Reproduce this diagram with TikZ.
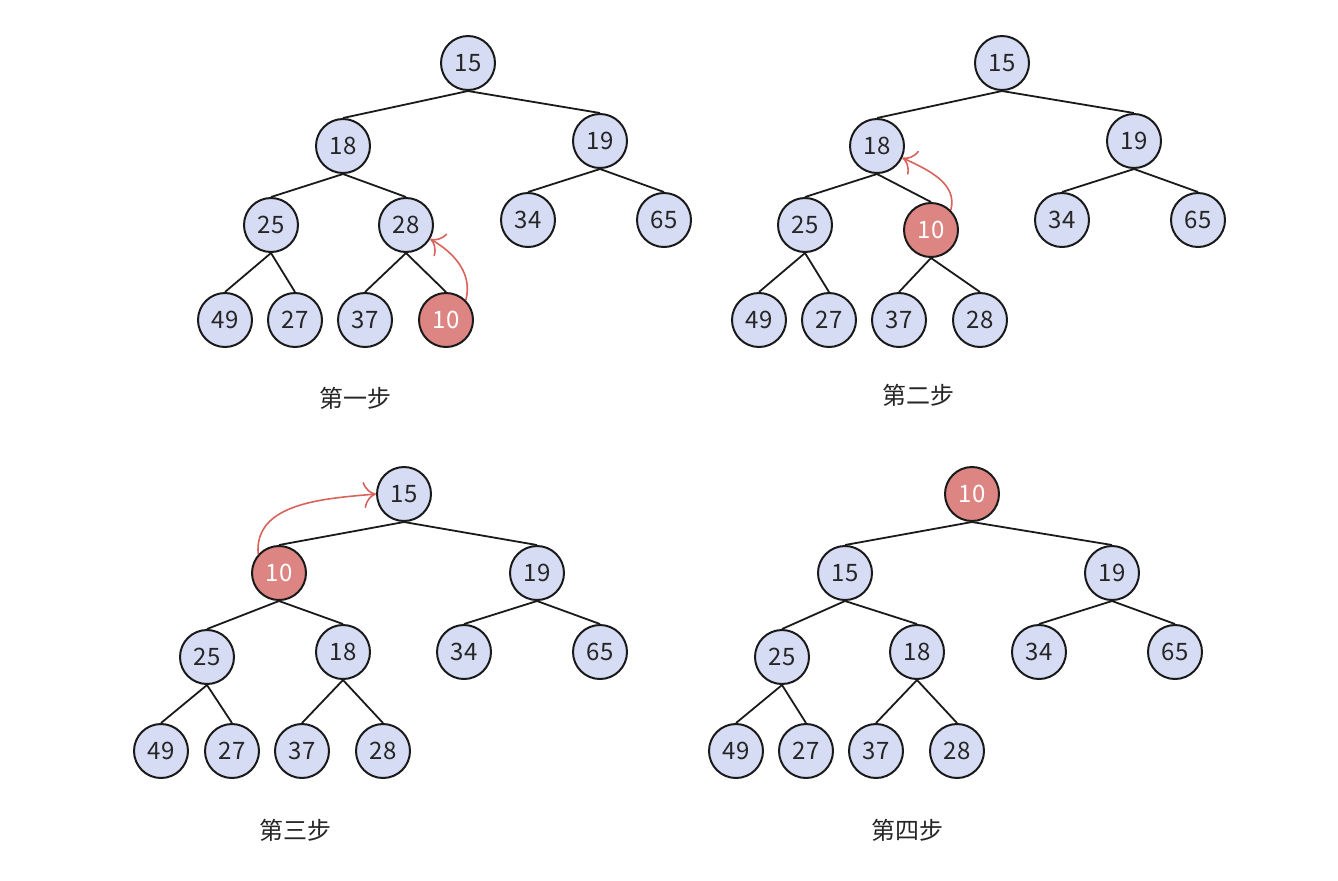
\documentclass[tikz,border=0pt]{standalone}
\usepackage{fontspec}
\setmainfont{Noto Sans CJK SC}
\usetikzlibrary{arrows.meta}
\definecolor{keyfill}{HTML}{D6DCF3}
\definecolor{hotfill}{HTML}{DD8582}
\definecolor{moveline}{HTML}{D9625C}
\definecolor{inkline}{HTML}{1A1A1A}
\tikzset{
  key/.style     = {circle,draw=inkline,line width=1pt,fill=keyfill,
                     minimum size=27pt,inner sep=0pt,
                     font=\fontsize{12}{14}\selectfont,text=black!85},
  hot/.style     = {key,fill=hotfill,text=white},
  link/.style    = {draw=inkline,line width=0.9pt},
  move/.style    = {-{To[length=2.2mm]},draw=moveline,line width=0.8pt},
  caption/.style = {font=\fontsize{12}{14}\selectfont,text=black!85},
}

\begin{document}
\begin{tikzpicture}[x=0.5pt,y=-0.5pt]
  \useasboundingbox (0,0) rectangle (1338,880);

  % step 1: 10 appended at the bottom
  \foreach \i/\x/\y/\v/\s in {1/468/63/15/key, 2/343/146/18/key, 3/600/141/19/key,
      4/271/225/25/key, 5/406/225/28/key, 6/528/220/34/key, 7/664/220/65/key,
      8/225/320/49/key, 9/295/320/27/key, 10/365/320/37/key, 11/446/320/10/hot}
    \node[\s] (a\i) at (\x,\y) {\v};
  \node[caption] (capa) at (355,398) {第一步};

  % step 2
  \foreach \i/\x/\y/\v/\s in {1/1002/63/15/key, 2/877/146/18/key, 3/1134/141/19/key,
      4/805/225/25/key, 5/931/230/10/hot, 6/1062/220/34/key, 7/1198/220/65/key,
      8/759/320/49/key, 9/829/320/27/key, 10/899/320/37/key, 11/980/320/28/key}
    \node[\s] (b\i) at (\x,\y) {\v};
  \node[caption] (capb) at (918,395) {第二步};

  % step 3
  \foreach \i/\x/\y/\v/\s in {1/404/494/15/key, 2/279/573/10/hot, 3/537/573/19/key,
      4/207/657/25/key, 5/343/652/18/key, 6/464/652/34/key, 7/600/652/65/key,
      8/161/751/49/key, 9/232/751/27/key, 10/302/751/37/key, 11/383/751/28/key}
    \node[\s] (c\i) at (\x,\y) {\v};
  \node[caption] (capc) at (295,830) {第三步};

  % step 4: 10 at the root
  \foreach \i/\x/\y/\v/\s in {1/972/494/10/hot, 2/845/573/15/key, 3/1112/573/19/key,
      4/782/657/25/key, 5/917/652/18/key, 6/1039/652/34/key, 7/1175/652/65/key,
      8/736/751/49/key, 9/806/751/27/key, 10/876/751/37/key, 11/957/751/28/key}
    \node[\s] (d\i) at (\x,\y) {\v};
  \node[caption] (capd) at (907,830) {第四步};

  % tree edges
  \foreach \t in {a,b,c,d}
    \foreach \p/\c in {1/2,1/3,2/4,2/5,3/6,3/7,4/8,4/9,5/10,5/11}
      \draw[link] (\t\p.south) -- (\t\c.north);

  % sift-up moves
  \draw[move] (a11.45) to[out=75,in=-30] (a5.-30);
  \draw[move] (b5.45) to[out=75,in=-25] (b2.-25);
  \draw[move] (c2.138) to[out=95,in=185] (c1.west);
\end{tikzpicture}
\end{document}
